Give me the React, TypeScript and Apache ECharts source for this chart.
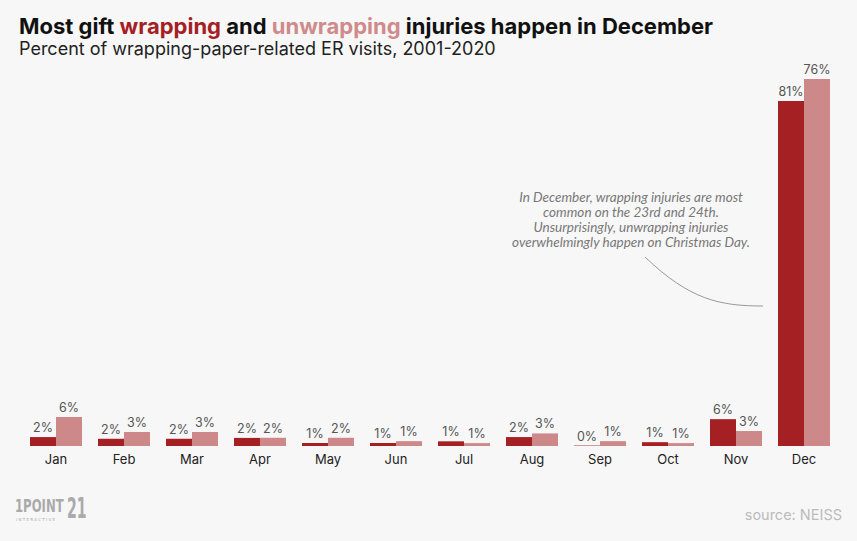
import React, { useEffect, useRef } from "react";
import * as echarts from "echarts";

const months = ["Jan", "Feb", "Mar", "Apr", "May", "Jun", "Jul", "Aug", "Sep", "Oct", "Nov", "Dec"];
const wrappingPct = [2.1, 1.7, 1.7, 1.9, 0.7, 0.7, 1.1, 2.1, 0.1, 0.9, 6.3, 81];
const unwrappingPct = [6.0, 2.9, 2.9, 1.7, 1.7, 1.0, 0.6, 2.6, 1.0, 0.6, 3.1, 76];

const WRAP = "#a52022";
const UNWRAP = "#cd8889";

export default function App() {
  const ref = useRef<HTMLDivElement>(null);
  useEffect(() => {
    document.body.style.margin = "0";
    const chart = echarts.init(ref.current!, null, { renderer: "svg" });
    const labelStyle = {
      show: true,
      position: "top" as const,
      color: "#555",
      fontSize: 12.5,
      fontFamily: "Inter",
      distance: 3,
      formatter: (p: any) => Math.round(p.value) + "%",
    };
    chart.setOption({
      animation: false,
      backgroundColor: "#f7f7f7",
      title: {
        left: 14,
        top: 10,
        text: "{b|Most gift }{w|wrapping}{b| and }{u|unwrapping}{b| injuries happen in December}",
        subtext: "Percent of wrapping-paper-related ER visits, 2001-2020",
        itemGap: 2,
        textStyle: {
          rich: {
            b: { fontFamily: "Inter", fontWeight: "bold", fontSize: 22, color: "#111" },
            w: { fontFamily: "Inter", fontWeight: "bold", fontSize: 22, color: WRAP },
            u: { fontFamily: "Inter", fontWeight: "bold", fontSize: 22, color: "#d08a8b" },
          },
        },
        subtextStyle: { fontFamily: "Inter", fontSize: 18, color: "#222" },
      },
      grid: { left: 22, right: 19, top: 79, bottom: 95 },
      xAxis: {
        type: "category",
        data: months,
        axisLine: { show: false },
        axisTick: { show: false },
        axisLabel: { color: "#222", fontSize: 13, fontFamily: "Inter", margin: 6 },
      },
      yAxis: [
        { type: "value", min: 0, max: (81 * 367) / 345, show: false, splitLine: { show: false } },
        { type: "value", min: 0, max: 76, show: false, splitLine: { show: false } },
      ],
      series: [
        {
          name: "wrapping",
          type: "bar",
          data: wrappingPct,
          yAxisIndex: 0,
          barWidth: 26,
          barGap: "0%",
          itemStyle: { color: WRAP },
          label: labelStyle,
        },
        {
          name: "unwrapping",
          type: "bar",
          data: unwrappingPct,
          yAxisIndex: 1,
          barWidth: 26,
          barGap: "0%",
          itemStyle: { color: UNWRAP },
          label: labelStyle,
        },
      ],
      graphic: [
        {
          type: "text",
          x: 631,
          y: 189,
          style: {
            text:
              "In December, wrapping injuries are most\ncommon on the 23rd and 24th.\nUnsurprisingly, unwrapping injuries\noverwhelmingly happen on Christmas Day.",
            font: "italic 13.5px Lato",
            fill: "#777",
            align: "center",
            lineHeight: 15,
          },
        },
        {
          type: "bezierCurve",
          shape: { x1: 645, y1: 257, cpx1: 690, cpy1: 300, cpx2: 720, cpy2: 306, x2: 763, y2: 306 },
          style: { stroke: "#999", lineWidth: 1, fill: "none" },
        },
        {
          type: "text",
          x: 15,
          y: 497,
          scaleX: 0.72,
          style: { text: "1POINT", font: "bold 18px 'DejaVu Sans Condensed'", fill: "#aaa" },
        },
        {
          type: "text",
          x: 67,
          y: 494,
          scaleX: 0.56,
          style: { text: "21", font: "bold 28px 'DejaVu Sans Condensed'", fill: "#aaa" },
        },
        {
          type: "text",
          x: 16,
          y: 517,
          style: { text: "I N T E R A C T I V E", font: "4px 'DejaVu Sans'", fill: "#aaa" },
        },
        {
          type: "text",
          right: 15,
          top: 507,
          style: { text: "source: NEISS", font: "14.5px Inter", fill: "#bbb" },
        },
      ],
    });
    return () => chart.dispose();
  }, []);
  return (
    <div
      ref={ref}
      style={{ width: 857, height: 541, position: "absolute", left: 0, top: 0 }}
    />
  );
}
